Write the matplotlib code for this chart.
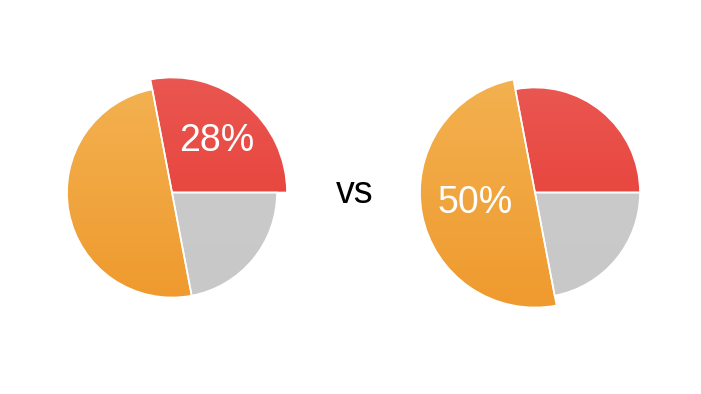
import numpy as np
import matplotlib
matplotlib.use("Agg")
import matplotlib.pyplot as plt
from matplotlib.colors import LinearSegmentedColormap

# data
categories = ["Red", "Orange", "Gray"]
left_values = [28, 50, 22]
right_values = [28, 50, 22]
left_highlight = 0   # index of highlighted slice
right_highlight = 1
left_label = "28%"
right_label = "50%"
middle_text = "vs"

W, H = 701, 394
fig = plt.figure(figsize=(W / 100, H / 100), dpi=100)
ax = fig.add_axes([0, 0, 1, 1])

top_colors = ["#EA5651", "#F3B150", "#CDCCCC"]
bot_colors = ["#E5392E", "#EF9A2E", "#C9C8C8"]

def draw_pie(values, center, highlight, label, label_pos):
    wedges, _ = ax.pie(values, startangle=0, counterclock=True, radius=105,
                       center=center, colors=bot_colors,
                       wedgeprops=dict(linewidth=1.2, edgecolor="white"))
    for i, w in enumerate(wedges):
        if i == highlight:
            w.set_radius(115)
        r = w.r
        cmap = LinearSegmentedColormap.from_list("g", [top_colors[i], bot_colors[i]])
        grad = np.linspace(0, 1, 256).reshape(-1, 1)
        im = ax.imshow(grad, cmap=cmap, aspect="auto",
                       extent=[center[0] - r, center[0] + r, center[1] - r, center[1] + r],
                       origin="upper", zorder=1)
        im.set_clip_path(w)
        w.set_facecolor("none")
        w.set_zorder(2)
    ax.text(label_pos[0], label_pos[1], label, color="white", fontsize=27,
            family="Liberation Sans", ha="center", va="center", zorder=3)

draw_pie(left_values, (172, H - 192.5), left_highlight, left_label, (216.5, H - 141))
draw_pie(right_values, (535, H - 192.5), right_highlight, right_label, (475, H - 203))

ax.text(355, H - 193, middle_text, color="black", fontsize=27,
        family="Liberation Sans", ha="center", va="center")

ax.set_xlim(0, W)
ax.set_ylim(0, H)
ax.set_aspect("auto")
ax.axis("off")
fig.savefig("out.png", dpi=100, facecolor="white")
